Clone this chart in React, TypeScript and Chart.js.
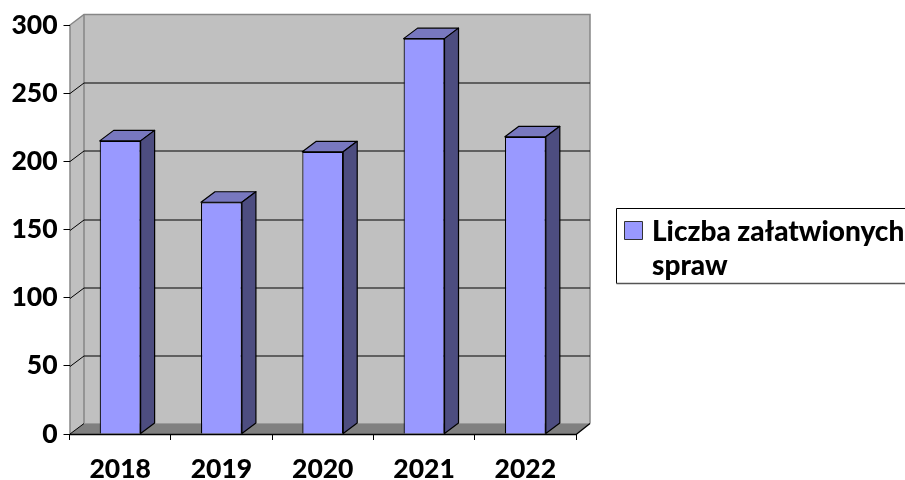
import React, { useEffect, useRef } from "react";
import { Chart, registerables } from "chart.js";

Chart.register(...registerables);

const categories = ["2018", "2019", "2020", "2021", "2022"];
const values = [215, 170, 207, 290, 218];
const seriesName = "Liczba załatwionych spraw";
const legendLines = ["Liczba załatwionych", "spraw"];
const FONT = "Lato, Carlito, sans-serif";

const DX = 14;
const DY = 10.5;

const poly = (ctx: CanvasRenderingContext2D, pts: number[][], fill: string | null, stroke: string | null, lw = 1) => {
  ctx.beginPath();
  pts.forEach((p, i) => (i ? ctx.lineTo(p[0], p[1]) : ctx.moveTo(p[0], p[1])));
  ctx.closePath();
  if (fill) { ctx.fillStyle = fill; ctx.fill(); }
  if (stroke) { ctx.strokeStyle = stroke; ctx.lineWidth = lw; ctx.stroke(); }
};

const line = (ctx: CanvasRenderingContext2D, pts: number[][], stroke: string, lw = 1) => {
  ctx.beginPath();
  pts.forEach((p, i) => (i ? ctx.lineTo(p[0], p[1]) : ctx.moveTo(p[0], p[1])));
  ctx.strokeStyle = stroke;
  ctx.lineWidth = lw;
  ctx.stroke();
};

const box3d = {
  id: "box3d",
  beforeDraw(chart: any) {
    const { ctx, chartArea: a, scales } = chart;
    const y = scales.y;
    const L = Math.round(a.left), R = a.right, T = a.top, B = a.bottom;
    ctx.save();
    poly(ctx, [[L, T], [L + DX, T - DY], [L + DX, B - DY], [L, B]], "#C0C0C0", null);
    poly(ctx, [[L + DX, T - DY], [R + DX, T - DY], [R + DX, B - DY], [L + DX, B - DY]], "#C0C0C0", null);
    poly(ctx, [[L, B], [L + DX, B - DY], [R + DX, B - DY], [R, B]], "#808080", null);
    line(ctx, [[L, B], [L, T], [L + DX, T - DY], [R + DX, T - DY], [R + DX, B - DY]], "#868686", 1.5);
    line(ctx, [[L + DX, T - DY], [L + DX, B - DY]], "#868686", 1.5);
    line(ctx, [[L + DX, B - DY], [R + DX, B - DY]], "#9a9a9a", 1);
    (y.ticks as any[]).forEach((t) => {
      if (t.value === 0 || t.value === y.max) return;
      const py = Math.round(y.getPixelForValue(t.value)) + 0.5;
      line(ctx, [[L, py], [L + DX, py - DY], [R + DX, py - DY]], "#000", 1);
    });
    line(ctx, [[L, B], [L + DX, B - DY]], "#000", 1);
    line(ctx, [[L, B + 0.5], [R, B + 0.5], [R + DX, B - DY]], "#000", 1.3);
    ctx.restore();
  },
  beforeDatasetsDraw(chart: any) {
    const { ctx } = chart;
    const meta = chart.getDatasetMeta(0);
    ctx.save();
    ctx.lineJoin = "round";
    meta.data.forEach((bar: any) => {
      const l = bar.x - bar.width / 2, r = bar.x + bar.width / 2, t = bar.y, b = bar.base;
      poly(ctx, [[l, t], [l + DX, t - DY], [r + DX, t - DY], [r, t]], "#7878BF", "#000", 1.2);
      poly(ctx, [[r, t], [r + DX, t - DY], [r + DX, b - DY], [r, b]], "#4D4D80", "#000", 1.2);
    });
    ctx.restore();
  },
  afterDraw(chart: any) {
    const { ctx } = chart;
    ctx.save();
    ctx.fillStyle = "#fff";
    ctx.fillRect(616.5, 208.5, 300, 75);
    line(ctx, [[916, 208.5], [616.5, 208.5], [616.5, 283.5]], "#000", 1);
    line(ctx, [[616.5, 283.5], [916, 283.5]], "#555", 1.5);
    poly(ctx, [[624.5, 221.5], [642.5, 221.5], [642.5, 239.5], [624.5, 239.5]], "#9999FF", "#333", 1);
    ctx.fillStyle = "#000";
    ctx.font = `900 28px ${FONT}`;
    ctx.textBaseline = "alphabetic";
    ctx.textAlign = "left";
    ctx.fillText(legendLines[0], 652, 241);
    ctx.fillText(legendLines[1], 652, 275);
    ctx.restore();
  },
};

export default function App() {
  const ref = useRef<HTMLCanvasElement>(null);
  useEffect(() => {
    const chart = new Chart(ref.current!, {
      type: "bar",
      data: {
        labels: categories,
        datasets: [
          {
            label: seriesName,
            data: values,
            backgroundColor: "#9999FF",
            borderColor: "#000",
            borderWidth: 1.2,
            barPercentage: 0.404,
            categoryPercentage: 1,
          },
        ],
      },
      options: {
        responsive: false,
        animation: false,
        devicePixelRatio: 1,
        layout: { padding: { top: 25, right: 329, left: 0, bottom: 0 } },
        plugins: { legend: { display: false }, tooltip: { enabled: false }, title: { display: false } },
        scales: {
          x: {
            afterFit: (s: any) => { s.height = 46; },
            grid: { drawOnChartArea: false, drawTicks: true, tickLength: 6, tickColor: "#000", offset: true },
            border: { display: false },
            ticks: { color: "#000", font: { family: FONT, size: 26.5, weight: "900" }, padding: 14, maxRotation: 0 },
          },
          y: {
            min: 0,
            max: 300,
            afterFit: (s: any) => { s.width = 69.5; },
            grid: { drawOnChartArea: false, drawTicks: true, tickLength: 6, tickColor: "#000" },
            border: { display: false },
            ticks: { stepSize: 50, color: "#000", font: { family: FONT, size: 26.5, weight: "900" }, padding: 6 },
          },
        },
      },
      plugins: [box3d],
    } as any);
    return () => chart.destroy();
  }, []);
  return (
    <div style={{ position: "absolute", left: 0, top: 0, width: 905, height: 480, overflow: "hidden", background: "#fff" }}>
      <canvas ref={ref} width={905} height={480} style={{ display: "block" }} />
    </div>
  );
}
